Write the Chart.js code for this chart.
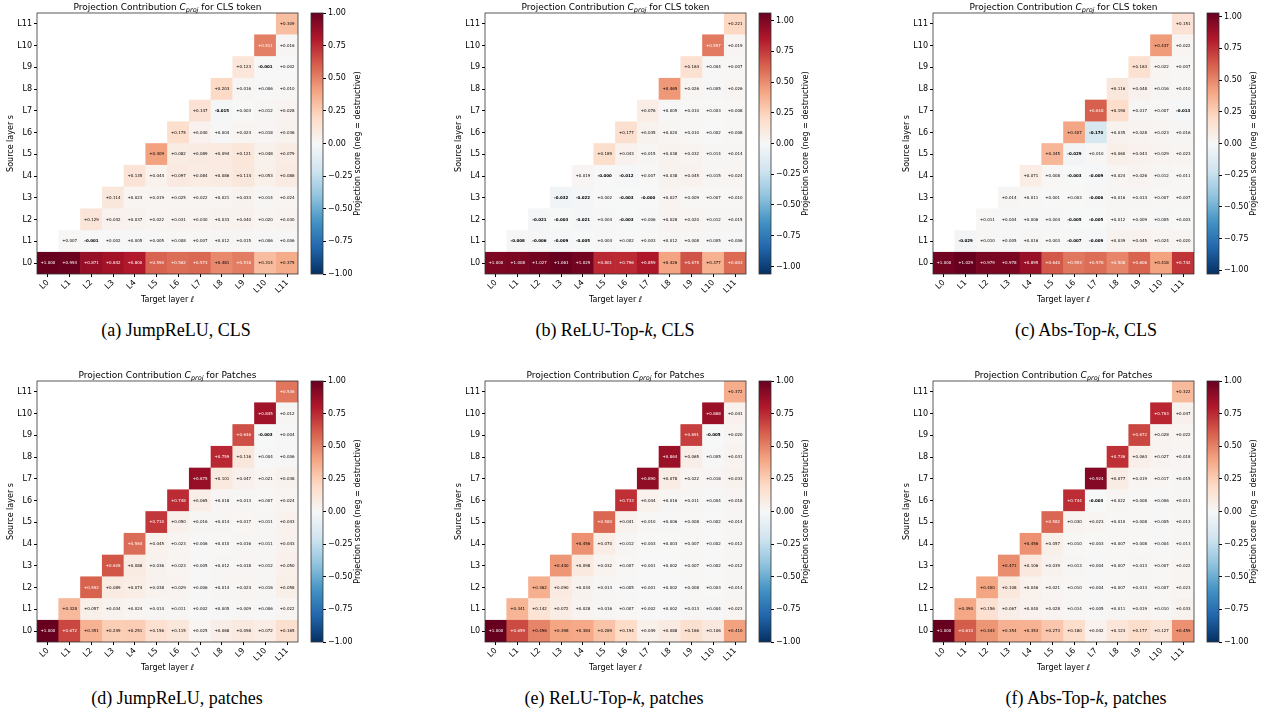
<!DOCTYPE html>
<html>
<head>
<meta charset="utf-8">
<script src="https://cdn.jsdelivr.net/npm/chart.js@4/dist/chart.umd.min.js"></script>
<style>
  body { margin: 0; background: #fff; width: 1266px; height: 717px; position: relative; overflow: hidden; }
  canvas { position: absolute; }
  .cap { position: absolute; font-family: 'Liberation Serif', serif; font-size: 18px; line-height: 20px;
         color: #000; white-space: nowrap; transform: translateX(-50%); }
</style>
</head>
<body>
<script>
// Layer labels (rows = source layer s, columns = target layer l)
const layers = ['L0', 'L1', 'L2', 'L3', 'L4', 'L5', 'L6', 'L7', 'L8', 'L9', 'L10', 'L11'];

// Each row s holds the values for target layers Ls..L11
const jumpCls = [
  [1.000, 0.993, 0.871, 0.842, 0.800, 0.590, 0.562, 0.573, 0.481, 0.518, 0.314, 0.375],
  [0.007, -0.001, 0.002, 0.005, 0.005, 0.008, 0.007, 0.012, 0.015, 0.006, 0.006],
  [0.129, 0.042, 0.037, 0.022, 0.031, 0.030, 0.033, 0.040, 0.020, 0.030],
  [0.114, 0.023, 0.019, 0.025, 0.022, 0.021, 0.033, 0.014, 0.024],
  [0.135, 0.044, 0.097, 0.084, 0.086, 0.114, 0.053, 0.086],
  [0.409, 0.082, 0.089, 0.094, 0.121, 0.048, 0.079],
  [0.175, 0.040, 0.004, 0.024, 0.018, 0.036],
  [0.147, -0.015, 0.003, 0.012, 0.028],
  [0.203, 0.016, 0.006, 0.010],
  [0.123, -0.001, 0.002],
  [0.511, 0.016],
  [0.309]
];
const reluCls = [
  [1.000, 1.008, 1.027, 1.061, 1.029, 0.801, 0.796, 0.859, 0.426, 0.675, 0.377, 0.603],
  [-0.008, -0.006, -0.009, -0.005, 0.004, 0.002, 0.003, 0.012, 0.008, 0.005, 0.006],
  [-0.021, -0.003, -0.021, 0.004, -0.003, 0.006, 0.028, 0.020, 0.012, 0.015],
  [-0.032, -0.022, 0.002, -0.003, -0.0004, 0.027, 0.009, 0.007, 0.010],
  [0.019, -0.0004, -0.012, 0.007, 0.038, 0.045, 0.015, 0.024],
  [0.189, 0.043, 0.015, 0.038, 0.032, 0.014, 0.014],
  [0.177, 0.035, 0.020, 0.010, 0.002, 0.008],
  [0.076, 0.005, 0.010, 0.003, 0.008],
  [0.465, 0.026, 0.005, 0.026],
  [0.164, 0.004, 0.007],
  [0.557, 0.019],
  [0.221]
];
const absCls = [
  [1.000, 1.029, 0.979, 0.978, 0.895, 0.640, 0.553, 0.578, 0.508, 0.606, 0.418, 0.742],
  [-0.029, 0.010, 0.005, 0.016, 0.003, -0.007, -0.009, 0.039, 0.045, 0.024, 0.020],
  [0.011, 0.004, 0.006, 0.004, -0.005, -0.005, 0.012, 0.009, 0.005, 0.003],
  [0.014, 0.011, 0.001, 0.003, -0.006, 0.016, 0.014, 0.007, 0.007],
  [0.071, 0.008, -0.003, -0.009, 0.024, 0.026, 0.012, 0.011],
  [0.345, -0.029, 0.010, 0.060, 0.043, 0.029, 0.023],
  [0.407, -0.170, 0.035, 0.028, 0.023, 0.016],
  [0.618, 0.190, 0.017, 0.007, -0.013],
  [0.116, 0.048, 0.016, 0.010],
  [0.163, 0.022, 0.007],
  [0.437, 0.022],
  [0.151]
];
const jumpPatch = [
  [1.000, 0.672, 0.351, 0.249, 0.251, 0.156, 0.115, 0.025, 0.068, 0.098, 0.072, 0.165],
  [0.328, 0.057, 0.034, 0.024, 0.014, 0.011, 0.002, 0.005, 0.009, 0.006, 0.022],
  [0.592, 0.089, 0.074, 0.038, 0.029, 0.006, 0.014, 0.024, 0.016, 0.058],
  [0.628, 0.088, 0.036, 0.023, 0.005, 0.012, 0.018, 0.012, 0.050],
  [0.564, 0.045, 0.023, 0.006, 0.010, 0.016, 0.011, 0.043],
  [0.710, 0.050, 0.016, 0.014, 0.017, 0.011, 0.043],
  [0.748, 0.065, 0.018, 0.013, 0.007, 0.024],
  [0.875, 0.101, 0.047, 0.021, 0.038],
  [0.759, 0.116, 0.004, 0.006],
  [0.646, -0.003, 0.004],
  [0.845, 0.012],
  [0.536]
];
const reluPatch = [
  [1.000, 0.659, 0.496, 0.398, 0.384, 0.289, 0.194, 0.049, 0.088, 0.166, 0.106, 0.410],
  [0.341, 0.142, 0.072, 0.028, 0.016, 0.007, 0.002, 0.002, 0.013, 0.004, 0.023],
  [0.362, 0.090, 0.034, 0.013, 0.005, 0.001, 0.002, 0.008, 0.003, 0.014],
  [0.440, 0.098, 0.032, 0.007, 0.001, 0.002, 0.007, 0.002, 0.012],
  [0.456, 0.070, 0.012, 0.003, 0.003, 0.007, 0.002, 0.012],
  [0.580, 0.041, 0.010, 0.006, 0.008, 0.002, 0.014],
  [0.733, 0.044, 0.016, 0.011, 0.004, 0.018],
  [0.890, 0.078, 0.022, 0.018, 0.033],
  [0.864, 0.065, 0.005, 0.031],
  [0.691, -0.005, 0.020],
  [0.868, 0.041],
  [0.372]
];
const absPatch = [
  [1.000, 0.610, 0.444, 0.354, 0.353, 0.273, 0.180, 0.042, 0.123, 0.177, 0.127, 0.459],
  [0.390, 0.156, 0.067, 0.040, 0.028, 0.014, 0.005, 0.011, 0.019, 0.010, 0.033],
  [0.400, 0.108, 0.046, 0.021, 0.010, 0.004, 0.007, 0.013, 0.007, 0.023],
  [0.471, 0.106, 0.039, 0.013, 0.004, 0.007, 0.013, 0.007, 0.022],
  [0.456, 0.057, 0.010, 0.003, 0.007, 0.008, 0.004, 0.013],
  [0.582, 0.030, 0.023, 0.010, 0.008, 0.005, 0.013],
  [0.744, -0.003, 0.022, 0.008, 0.006, 0.011],
  [0.924, 0.077, 0.019, 0.017, 0.015],
  [0.736, 0.063, 0.027, 0.018],
  [0.672, 0.028, 0.022],
  [0.763, 0.047],
  [0.322]
];

// Colorbar tick values
const cbTicks = [-1, -0.75, -0.5, -0.25, 0, 0.25, 0.5, 0.75, 1];

// RdBu_r colormap stops (blue -> white -> red)
const rdbuR = ['#053061', '#2166ac', '#4393c3', '#92c5de', '#d1e5f0', '#f7f7f7',
               '#fddbc7', '#f4a582', '#d6604d', '#b2182b', '#67001f'];

function hexToRgb(h) {
  return [parseInt(h.slice(1, 3), 16), parseInt(h.slice(3, 5), 16), parseInt(h.slice(5, 7), 16)];
}

function cmap(t) {
  t = Math.max(0, Math.min(1, t));
  const p = t * (rdbuR.length - 1);
  const i = Math.min(Math.floor(p), rdbuR.length - 2);
  const f = p - i;
  const a = hexToRgb(rdbuR[i]), b = hexToRgb(rdbuR[i + 1]);
  const c = a.map((v, k) => Math.round(v + (b[k] - v) * f));
  return `rgb(${c[0]},${c[1]},${c[2]})`;
}

function fmt(v) {
  return (v < 0 ? '-' : '+') + Math.abs(v).toFixed(3);
}

Chart.defaults.font.family = "'DejaVu Sans', sans-serif";
Chart.defaults.color = '#000';

// Panel layout: offset of each panel and its caption
const panels = [
  { data: jumpCls,   left: 0,   top: 0,   tail: ' for CLS token', cap: '(a) JumpReLU, CLS',               capX: 176,  capY: 320 },
  { data: reluCls,   left: 448, top: 0,   tail: ' for CLS token', cap: '(b) ReLU-Top-<i>k</i>, CLS',      capX: 615,  capY: 320 },
  { data: absCls,    left: 896, top: 0,   tail: ' for CLS token', cap: '(c) Abs-Top-<i>k</i>, CLS',       capX: 1086, capY: 320 },
  { data: jumpPatch, left: 0,   top: 368, tail: ' for Patches',   cap: '(d) JumpReLU, patches',           capX: 177,  capY: 688 },
  { data: reluPatch, left: 448, top: 368, tail: ' for Patches',   cap: '(e) ReLU-Top-<i>k</i>, patches',  capX: 614,  capY: 688 },
  { data: absPatch,  left: 896, top: 368, tail: ' for Patches',   cap: '(f) Abs-Top-<i>k</i>, patches',   capX: 1086, capY: 688 }
];

function addCanvas(left, top, w, h) {
  const c = document.createElement('canvas');
  c.width = w; c.height = h;
  c.style.left = left + 'px'; c.style.top = top + 'px';
  document.body.appendChild(c);
  return c;
}

// Heatmap drawn as floating bars, one dataset per source layer
function makeHeat(canvas, M, tail, vmax) {
  const datasets = M.map((row, s) => ({
    data: layers.map((_, c) => c >= s ? [s - 0.5, s + 0.5] : null),
    backgroundColor: layers.map((_, c) => c >= s ? cmap((row[c - s] + vmax) / (2 * vmax)) : 'rgba(0,0,0,0)'),
    grouped: false,
    barPercentage: 1,
    categoryPercentage: 1,
    borderWidth: 0
  }));

  const annotate = {
    id: 'annotate',
    afterDatasetsDraw(chart) {
      const ctx = chart.ctx;
      const ys = chart.scales.y;
      ctx.save();
      ctx.textAlign = 'center';
      ctx.textBaseline = 'middle';
      M.forEach((row, s) => {
        const meta = chart.getDatasetMeta(s);
        row.forEach((v, k) => {
          const el = meta.data[s + k];
          ctx.font = (v < 0 ? 'bold ' : '') + "4px 'DejaVu Sans'";
          ctx.fillStyle = Math.abs(v) > 0.5 ? '#fff' : '#000';
          ctx.fillText(fmt(v), el.x, ys.getPixelForValue(s));
        });
      });
      ctx.restore();
    },
    afterDraw(chart) {
      const ctx = chart.ctx;
      const a = chart.chartArea;
      ctx.save();
      ctx.strokeStyle = '#333';
      ctx.lineWidth = 0.8;
      ctx.strokeRect(a.left, a.top, a.right - a.left, a.bottom - a.top);
      // title with italic C and subscript proj
      const parts = [
        { t: 'Projection Contribution ', f: "9px 'DejaVu Sans'", dy: 0 },
        { t: 'C', f: "italic 9px 'DejaVu Sans'", dy: 0 },
        { t: 'proj', f: "italic 6.5px 'DejaVu Sans'", dy: 2 },
        { t: tail, f: "9px 'DejaVu Sans'", dy: 0 }
      ];
      let total = 0;
      parts.forEach(p => { ctx.font = p.f; p.w = ctx.measureText(p.t).width; total += p.w; });
      let x = (a.left + a.right) / 2 - total / 2;
      ctx.fillStyle = '#000';
      ctx.textBaseline = 'alphabetic';
      ctx.textAlign = 'left';
      parts.forEach(p => { ctx.font = p.f; ctx.fillText(p.t, x, 10 + p.dy); x += p.w; });
      ctx.restore();
    }
  };

  new Chart(canvas, {
    type: 'bar',
    data: { labels: layers, datasets: datasets },
    options: {
      responsive: false,
      animation: false,
      devicePixelRatio: 1,
      layout: { padding: { top: 13, right: 2, left: 0, bottom: 0 } },
      plugins: { legend: { display: false }, tooltip: { enabled: false } },
      scales: {
        x: {
          type: 'category',
          offset: true,
          grid: { display: true, drawOnChartArea: false, drawTicks: true, tickLength: 3, offset: false, color: '#000' },
          border: { display: false },
          ticks: { font: { size: 8 }, color: '#000', maxRotation: 45, minRotation: 45, padding: 1, autoSkip: false },
          title: { display: true, text: 'Target layer \u2113', font: { size: 8 }, padding: { top: 0, bottom: 1 } },
          afterFit: s => { s.height = 32; }
        },
        y: {
          type: 'linear',
          min: -0.5,
          max: 11.5,
          afterBuildTicks: s => { s.ticks = layers.map((_, i) => ({ value: i })); },
          grid: { display: true, drawOnChartArea: false, drawTicks: true, tickLength: 3, color: '#000' },
          border: { display: false },
          ticks: { font: { size: 8 }, color: '#000', padding: 2, callback: v => 'L' + v },
          title: { display: true, text: 'Source layer s', font: { size: 8 }, padding: { top: 6, bottom: 1 } },
          afterFit: s => { s.width = 37; }
        }
      }
    },
    plugins: [annotate]
  });
}

// Colorbar: one floating bar filled with the colormap gradient
function makeBar(canvas, vmax) {
  const frame = {
    id: 'cbframe',
    afterDraw(chart) {
      const ctx = chart.ctx;
      const a = chart.chartArea;
      ctx.save();
      ctx.strokeStyle = '#333';
      ctx.lineWidth = 0.8;
      ctx.strokeRect(a.left, a.top, a.right - a.left, a.bottom - a.top);
      ctx.translate(58, (a.top + a.bottom) / 2);
      ctx.rotate(-Math.PI / 2);
      ctx.font = "8px 'DejaVu Sans'";
      ctx.fillStyle = '#000';
      ctx.textAlign = 'center';
      ctx.textBaseline = 'middle';
      ctx.fillText('Projection score (neg = destructive)', 0, 0);
      ctx.restore();
    }
  };

  new Chart(canvas, {
    type: 'bar',
    data: {
      labels: [''],
      datasets: [{
        data: [[-vmax, vmax]],
        backgroundColor: ctx => {
          const ca = ctx.chart.chartArea;
          if (!ca) return null;
          const g = ctx.chart.ctx.createLinearGradient(0, ca.bottom, 0, ca.top);
          rdbuR.forEach((c, i) => g.addColorStop(i / (rdbuR.length - 1), c));
          return g;
        },
        barPercentage: 1,
        categoryPercentage: 1,
        borderWidth: 0
      }]
    },
    options: {
      responsive: false,
      animation: false,
      devicePixelRatio: 1,
      layout: { padding: { left: 11, top: 13, bottom: 32, right: 0 } },
      plugins: { legend: { display: false }, tooltip: { enabled: false } },
      scales: {
        x: { display: false },
        y: {
          position: 'right',
          min: -vmax,
          max: vmax,
          afterBuildTicks: s => { s.ticks = cbTicks.map(v => ({ value: v })); },
          afterFit: s => { s.width = 47; },
          grid: { drawOnChartArea: false, tickLength: 3, color: '#000' },
          border: { display: false },
          ticks: {
            font: { size: 8 }, color: '#000', padding: 2,
            callback: v => (v < 0 ? '\u2212' : '') + Math.abs(v).toFixed(2)
          }
        }
      }
    },
    plugins: [frame]
  });
}

panels.forEach(p => {
  const vmax = Math.max(...p.data.flat().map(Math.abs));
  makeHeat(addCanvas(p.left, p.top, 300, 306), p.data, p.tail, vmax);
  makeBar(addCanvas(p.left + 300, p.top, 70, 306), vmax);
  const cap = document.createElement('div');
  cap.className = 'cap';
  cap.style.left = p.capX + 'px';
  cap.style.top = p.capY + 'px';
  cap.innerHTML = p.cap;
  document.body.appendChild(cap);
});
</script>
</body>
</html>
